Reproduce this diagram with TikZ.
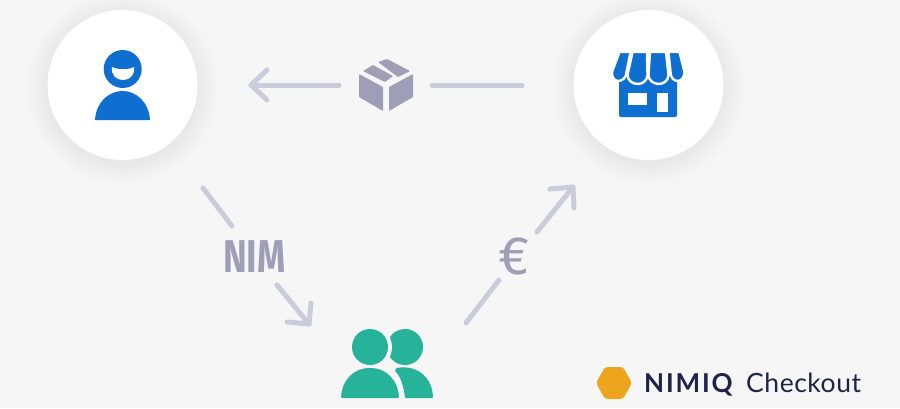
\documentclass[tikz,border=0pt]{standalone}
\usepackage{fontspec}
\setmainfont{Lato}
\newfontfamily\nimfont{Fira Sans}
\usetikzlibrary{arrows.meta,calc}
\definecolor{bgc}{HTML}{F6F6F6}
\definecolor{flow}{HTML}{CBCBDA}
\definecolor{iconc}{HTML}{A09EB6}
\definecolor{bluec}{HTML}{0E6FD0}
\definecolor{greenc}{HTML}{27B39A}
\definecolor{navyc}{HTML}{1F2348}
\definecolor{goldc}{HTML}{ECA51C}
\tikzset{
  flowline/.style={draw=flow,line width=5pt,line cap=round,line join=round},
  disc/.style={circle,fill=white,minimum size=150pt,inner sep=0pt},
  lbl/.style={inner sep=0pt,anchor=base west},
}
\newcommand{\softshadow}[2]{%
  \foreach \r in {1,...,14}{\fill[black,opacity=.0028] (#1,#2+3) circle[radius=74+1.6*\r];}%
}
\begin{document}
\begin{tikzpicture}[x=1pt,y=-1pt]
\path[use as bounding box,fill=bgc] (0,0) rectangle (900,408);
% discs
\softshadow{122.5}{85}
\softshadow{648.5}{85}
\node[disc] (user) at (122.5,85) {};
\node[disc] (store) at (648.5,85) {};
% person
\fill[bluec] (122.7,69) circle[radius=19];
\fill[white] (112,67) .. controls (118,70) and (128,70) .. (134,67) .. controls (135,75) and (130,80) .. (123,80) .. controls (116,80) and (111,75) .. (112,67) -- cycle;
\fill[bluec] (95,120) .. controls (96,102) and (109,91) .. (122.7,91) .. controls (136,91) and (149,102) .. (150,120) -- cycle;
% store
\fill[bluec,rounded corners=2pt] (619,76) rectangle (677,117);
\fill[white] (628,93) rectangle (647,105);
\fill[white] (657,93) rectangle (668,112);
\begin{scope}[draw=white,fill=bluec,line width=2.4pt,line join=round]
\filldraw (619.5,52) -- (630.5,52) -- (626.5,72) .. controls (626.5,78) and (622,81) .. (618,81) .. controls (614,81) and (611.5,76) .. (612,72) -- cycle;
\filldraw (632.5,52) -- (647,52) -- (647.5,75) .. controls (647.5,80) and (643,84) .. (638,84) .. controls (632,84) and (627.5,80) .. (627.5,75) -- cycle;
\filldraw (650,52) -- (666,52) -- (668.5,75) .. controls (668.5,80) and (664,84) .. (659,84) .. controls (653,84) and (648.5,80) .. (648.5,75) -- cycle;
\filldraw (668.5,52) -- (679.5,52) -- (684.5,72) .. controls (684.5,76) and (682,81) .. (678,81) .. controls (674,81) and (670.5,78) .. (670.5,72) -- cycle;
\end{scope}
% parcel
\node[inner sep=0pt,minimum size=54pt] (parcel) at (386,85) {};
\fill[iconc,rounded corners=.8pt] (359,74) -- (383,87) -- (383,111) -- (359,97) -- cycle;
\fill[iconc,rounded corners=.8pt] (389,87) -- (413,74) -- (413,97) -- (389,111) -- cycle;
\fill[iconc,rounded corners=.8pt] (363,71) -- (373,65) -- (393,76) -- (385,82) -- cycle;
\fill[iconc,rounded corners=.8pt] (378,62) -- (387,59) -- (410,71) -- (398,77) -- cycle;
% text labels
\node[lbl,text=iconc,font=\nimfont\bfseries\fontsize{46}{46}\selectfont] (nim) at (223,272) {\scalebox{.78}[1]{NIM}};
\node[inner sep=0pt,text=iconc,font=\nimfont\fontsize{54}{54}\selectfont] (euro) at (514,256) {€};
% connector coordinates
\coordinate (a0) at (522,85); \coordinate (a1) at (432,85);
\coordinate (a2) at (339,85); \coordinate (a3) at (251,85);
\coordinate (a4) at (267,70); \coordinate (a5) at (267,100);
\draw[flowline] (a0) -- (a1);
\draw[flowline] (a2) -- (a3);
\draw[flowline] (a4) -- (a3) -- (a5);
\coordinate (b0) at (203,188); \coordinate (b1) at (232,226);
\coordinate (b2) at (277,285); \coordinate (b3) at (309,324);
\coordinate (b4) at (287,322); \coordinate (b5) at (311,303);
\draw[flowline] (b0) -- (b1);
\draw[flowline] (b2) -- (b3);
\draw[flowline] (b4) -- (b3) -- (b5);
\coordinate (c0) at (466,323); \coordinate (c1) at (499,280);
\coordinate (c2) at (537,232); \coordinate (c3) at (573,187);
\coordinate (c4) at (550,189); \coordinate (c5) at (574,208);
\draw[flowline] (c0) -- (c1);
\draw[flowline] (c2) -- (c3);
\draw[flowline] (c4) -- (c3) -- (c5);
% group
\fill[greenc] (405,347) circle[radius=18];
\fill[bgc] (370,347) circle[radius=22];
\fill[greenc] (370,347) circle[radius=18];
\fill[greenc,rounded corners=1pt] (396,368) .. controls (422,364) and (433,383) .. (433,398) -- (405,398) .. controls (404,388) and (401,377) .. (395,371) -- cycle;
\fill[greenc,rounded corners=1pt] (341,398) .. controls (342,379) and (355,368) .. (370,368) .. controls (385,368) and (398,379) .. (399,398) -- cycle;
% logo
\fill[goldc,rounded corners=3pt] (596,383) -- (605,367) -- (623,367) -- (632,383) -- (623,399) -- (605,399) -- cycle;
\node[lbl,text=navyc,font=\bfseries\fontsize{26}{26}\selectfont] (brand) at (644,392) {\addfontfeature{LetterSpace=7}NIMIQ};
\node[lbl,text=navyc,font=\fontsize{26.5}{26.5}\selectfont] (check) at (746,392) {\addfontfeature{LetterSpace=2}Checkout};
\end{tikzpicture}
\end{document}
